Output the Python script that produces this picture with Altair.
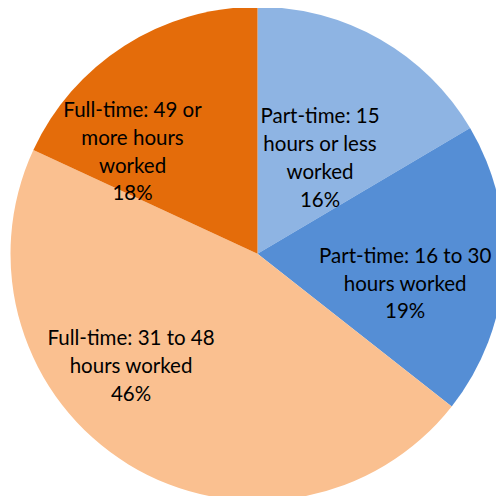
import altair as alt
import pandas as pd

categories = [
    "Part-time: 15 hours or less worked",
    "Part-time: 16 to 30 hours worked",
    "Full-time: 31 to 48 hours worked",
    "Full-time: 49 or more hours worked",
]
shares = [16.5, 19.1, 46.3, 18.1]
pct_labels = ["16%", "19%", "46%", "18%"]
label_lines = [
    "Part-time: 15|hours or less|worked",
    "Part-time: 16 to 30|hours worked",
    "Full-time: 31 to 48|hours worked",
    "Full-time: 49 or|more hours|worked",
]
colors = ["#8EB4E3", "#558ED5", "#FAC090", "#E46C0A"]

df = pd.DataFrame({
    "category": categories,
    "share": shares,
    "pct": pct_labels,
    "lines": label_lines,
    "order": list(range(len(categories))),
})

W, H = 488, 488
CX, CY = 249.5, 245.8
R = 247
LH = 27.7
total = float(sum(shares))
theta_scale = alt.Scale(domain=[0, total])

pie = alt.Chart(df).mark_arc(outerRadius=R, stroke=None).encode(
    theta=alt.Theta("share:Q", stack=True, scale=theta_scale),
    order=alt.Order("order:Q"),
    color=alt.Color("category:N", scale=alt.Scale(domain=categories, range=colors), legend=None),
    x=alt.value(CX),
    y=alt.value(CY),
)

offsets = [(-11.8, 35.5), (-2.0, 21.0), (-48.1, -14.5), (-44.2, 25.5)]
texts = []
for cat, lines, (dx, dy) in zip(categories, label_lines, offsets):
    n = len(lines.split("|")) + 1
    t = alt.Chart(df).transform_window(
        cum="sum(share)", sort=[alt.SortField("order")]
    ).transform_calculate(
        mid="datum.cum - datum.share / 2",
        txt="split(datum.lines + '|' + datum.pct, '|')",
    ).transform_filter(alt.datum.category == cat).mark_text(
        radius=150, dx=dx, dy=dy - (n - 1) * LH / 2, font="Lato", fontSize=20.5, lineHeight=LH,
        color="#000000", align="center", baseline="middle"
    ).encode(
        theta=alt.Theta("mid:Q", stack=False, scale=theta_scale),
        text="txt:N",
        x=alt.value(CX),
        y=alt.value(CY),
    )
    texts.append(t)

chart = alt.layer(pie, *texts).properties(
    width=W, height=H, padding=0, autosize=alt.AutoSizeParams(type="none")
).configure_view(stroke=None)

chart.save("out.html", embed_options={"renderer": "svg", "actions": False})
